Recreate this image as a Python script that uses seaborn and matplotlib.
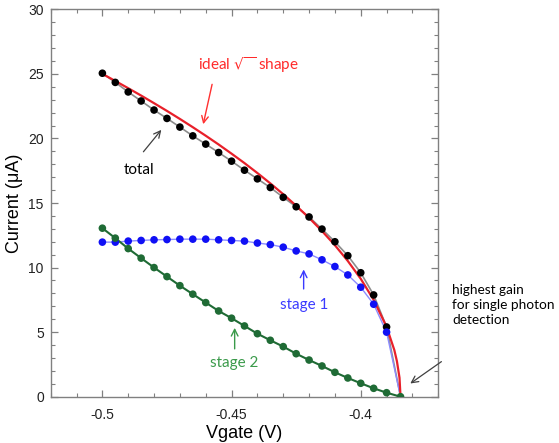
import numpy as np
import pandas as pd
import matplotlib
matplotlib.use("Agg")
import matplotlib.pyplot as plt
import seaborn as sns
from matplotlib.ticker import MultipleLocator

# ---- data ----
vgate = [-0.500, -0.495, -0.490, -0.485, -0.480, -0.475, -0.470, -0.465,
         -0.460, -0.455, -0.450, -0.445, -0.440, -0.435, -0.430, -0.425,
         -0.420, -0.415, -0.410, -0.405, -0.400, -0.395, -0.390]
v_end = -0.3846

total = [25.05, 24.34, 23.60, 22.90, 22.20, 21.55, 20.88, 20.20, 19.56, 18.91,
         18.24, 17.54, 16.87, 16.20, 15.44, 14.71, 13.92, 12.98, 12.00, 10.92,
         9.60, 7.88, 5.40]
stage1 = [11.97, 11.97, 12.05, 12.10, 12.15, 12.17, 12.20, 12.20, 12.20, 12.15,
          12.10, 12.05, 11.90, 11.78, 11.58, 11.29, 11.06, 10.60, 10.08, 9.43,
          8.48, 7.16, 5.00]
stage2 = [13.05, 12.28, 11.47, 10.73, 10.00, 9.30, 8.60, 7.94, 7.29, 6.64,
          6.08, 5.48, 4.88, 4.37, 3.88, 3.33, 2.84, 2.38, 1.89, 1.45,
          1.04, 0.65, 0.31]

ideal_v = [-0.500, -0.495, -0.490, -0.485, -0.480, -0.475, -0.470, -0.465,
           -0.460, -0.455, -0.450, -0.445, -0.440, -0.435, -0.430, -0.425,
           -0.420, -0.415, -0.410, -0.405, -0.400, -0.395, -0.390, -0.387,
           -0.386, -0.385, -0.3846]
ideal_i = [25.00, 24.45, 23.89, 23.32, 22.73, 22.13, 21.51, 20.87, 20.21, 19.53,
           18.82, 18.09, 17.32, 16.52, 15.68, 14.79, 13.85, 12.83, 11.73, 10.51,
           9.13, 7.50, 5.41, 3.61, 2.75, 1.47, 0.0]

sns.set_theme(style="white")
plt.rcParams['font.family'] = ['Liberation Sans', 'DejaVu Sans']

fig = plt.figure(figsize=(5.59, 4.43), dpi=100)
ax = fig.add_axes([0.0907, 0.1045, 0.784 - 0.0907, 0.979 - 0.1045])

def line_df(v, i, end=None):
    vv = list(v) + ([end[0]] if end else [])
    ii = list(i) + ([end[1]] if end else [])
    return pd.DataFrame({"V": vv, "I": ii})

# total (gray line, black dots)
sns.lineplot(data=line_df(vgate, total, (v_end, 0.0)), x="V", y="I", ax=ax,
             color="#8c8c8c", lw=1.2, estimator=None, sort=False, zorder=2)
# stage 1
sns.lineplot(data=line_df(vgate, stage1, (v_end, 0.0)), x="V", y="I", ax=ax,
             color="#8c8cff", lw=1.0, estimator=None, sort=False, zorder=2)
# ideal sqrt
sns.lineplot(data=pd.DataFrame({"V": ideal_v, "I": ideal_i}), x="V", y="I", ax=ax,
             color="#e8202a", lw=1.6, estimator=None, sort=False, zorder=3)
# stage 2
sns.lineplot(data=line_df(vgate, stage2, (v_end, 0.0)), x="V", y="I", ax=ax,
             color="#1f6b35", lw=1.5, estimator=None, sort=False, zorder=4)

sns.scatterplot(data=pd.DataFrame({"V": vgate, "I": total}), x="V", y="I", ax=ax,
                color="black", s=30, edgecolor="none", zorder=5)
sns.scatterplot(data=pd.DataFrame({"V": vgate, "I": stage1}), x="V", y="I", ax=ax,
                color="#1010f5", s=30, edgecolor="none", zorder=5)
sns.scatterplot(data=pd.DataFrame({"V": vgate + [v_end], "I": stage2 + [0.0]}), x="V", y="I", ax=ax,
                color="#1f6b35", s=30, edgecolor="none", zorder=6)

ax.set_xlim(-0.52, -0.37)
ax.set_ylim(0, 30)
ax.xaxis.set_major_locator(MultipleLocator(0.05))
ax.xaxis.set_minor_locator(MultipleLocator(0.01))
ax.yaxis.set_major_locator(MultipleLocator(5))
ax.yaxis.set_minor_locator(MultipleLocator(1))
ax.set_xticks([-0.5, -0.45, -0.4])
ax.set_xticklabels(["-0.5", "-0.45", "-0.4"])
ax.set_yticks([0, 5, 10, 15, 20, 25, 30])
ax.set_yticklabels(["0", "5", "10", "15", "20", "25", "30"])
ax.tick_params(which="both", direction="in", top=True, right=True, bottom=True, left=True,
               color="#808080", labelsize=10, labelcolor="#222222")
ax.tick_params(which="major", length=5, width=0.9)
ax.tick_params(which="minor", length=3, width=0.8)
ax.tick_params(axis="x", which="major", pad=8)
ax.tick_params(axis="y", which="major", pad=5)
for s in ax.spines.values():
    s.set_color("#808080")
    s.set_linewidth(1.0)
    s.set_visible(True)

ax.set_xlabel("Vgate (V)", fontsize=13, color="black", labelpad=2)
ax.set_ylabel("Current (\u03bcA)", fontsize=13, color="black", labelpad=4)

afont = ['Lato', 'DejaVu Sans']
ax.annotate("", xy=(-0.4612, 20.89), xytext=(-0.4573, 24.4),
            arrowprops=dict(arrowstyle="->", color="#ff3030", lw=1.0))
ax.text(-0.4435, 25.67, r"ideal $\sqrt{\ \,}$ shape", color="#ff2a2a", fontsize=11,
        ha="center", va="center", family=afont)

ax.annotate("", xy=(-0.4765, 20.83), xytext=(-0.4848, 18.8),
            arrowprops=dict(arrowstyle="->", color="#404040", lw=0.9))
ax.text(-0.4857, 17.56, "total", color="black", fontsize=11, ha="center", va="center", family=afont)

ax.annotate("", xy=(-0.4221, 10.07), xytext=(-0.4221, 8.13),
            arrowprops=dict(arrowstyle="->", color="#3a3aff", lw=1.0))
ax.text(-0.4219, 7.1, "stage 1", color="#3a3aff", fontsize=11, ha="center", va="center", family=afont)

ax.annotate("", xy=(-0.4488, 5.55), xytext=(-0.4488, 3.49),
            arrowprops=dict(arrowstyle="->", color="#3a9a4a", lw=1.0))
ax.text(-0.4488, 2.59, "stage 2", color="#3a9a4a", fontsize=11, ha="center", va="center", family=afont)

ax.annotate("", xy=(-0.3817, 0.9), xytext=(-0.3679, 2.84),
            arrowprops=dict(arrowstyle="->", color="#404040", lw=0.9), annotation_clip=False)
ax.text(-0.3647, 7.1, "highest gain\nfor single photon\ndetection", color="black", fontsize=9.8,
        ha="left", va="center", family=afont, linespacing=1.3, clip_on=False)

fig.savefig("out.png", dpi=100)
